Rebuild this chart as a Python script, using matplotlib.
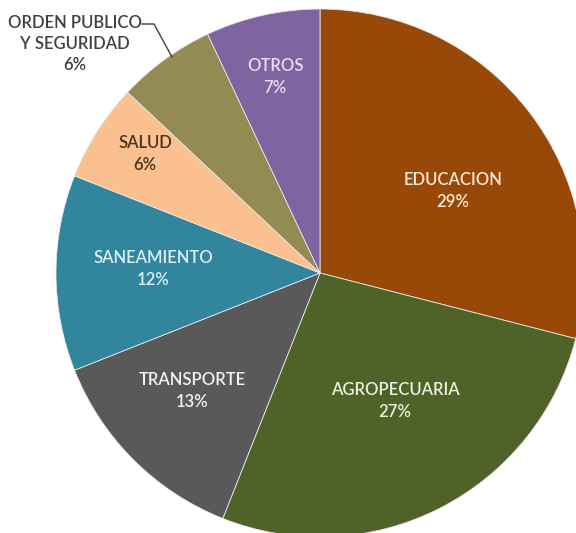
import matplotlib
matplotlib.use("Agg")
import matplotlib.pyplot as plt

# sectors, clockwise from 12 o'clock
sectores = ['EDUCACION', 'AGROPECUARIA', 'TRANSPORTE', 'SANEAMIENTO',
            'SALUD', 'ORDEN PUBLICO\nY SEGURIDAD', 'OTROS']
porcentajes = [29, 27, 13, 12, 6, 6, 7]
colores = ['#984807', '#4f6228', '#595959', '#31859c', '#fac08f', '#948a54', '#8064a2']
color_texto = ['#fde9d9', '#ebf1de', '#f2f2f2', '#dbeef4', '#4d3319', '#404040', '#e5e0ec']

# label anchor points in pixel coords (x, y from top)
pos_texto = [(453, 191), (395, 401), (192, 391), (153, 269),
             (145, 154), (75, 44), (275, 77)]

W, H = 576, 533
fig = plt.figure(figsize=(W / 100, H / 100), dpi=100)
ax = fig.add_axes([0, 0, 1, 1])

cx, cy, r = 320, 273, 264
ax.pie(porcentajes, colors=colores, startangle=90, counterclock=False,
       center=(cx, H - cy), radius=r, frame=True,
       wedgeprops=dict(edgecolor='#e8e8e8', linewidth=0.6))

for nombre, p, (x, y), c in zip(sectores, porcentajes, pos_texto, color_texto):
    ax.text(x, H - y, nombre + '\n' + str(p) + '%', ha='center', va='center',
            color=c, fontsize=12, family='Lato', fontweight='semibold',
            linespacing=1.4)

# leader line for ORDEN PUBLICO
ax.plot([142, 154, 172], [H - 24, H - 24, H - 57], color='#404040', lw=1)

ax.set_xlim(0, W)
ax.set_ylim(0, H)
ax.set_aspect('equal')
ax.axis('off')
fig.savefig('out.png', dpi=100, facecolor='white')
